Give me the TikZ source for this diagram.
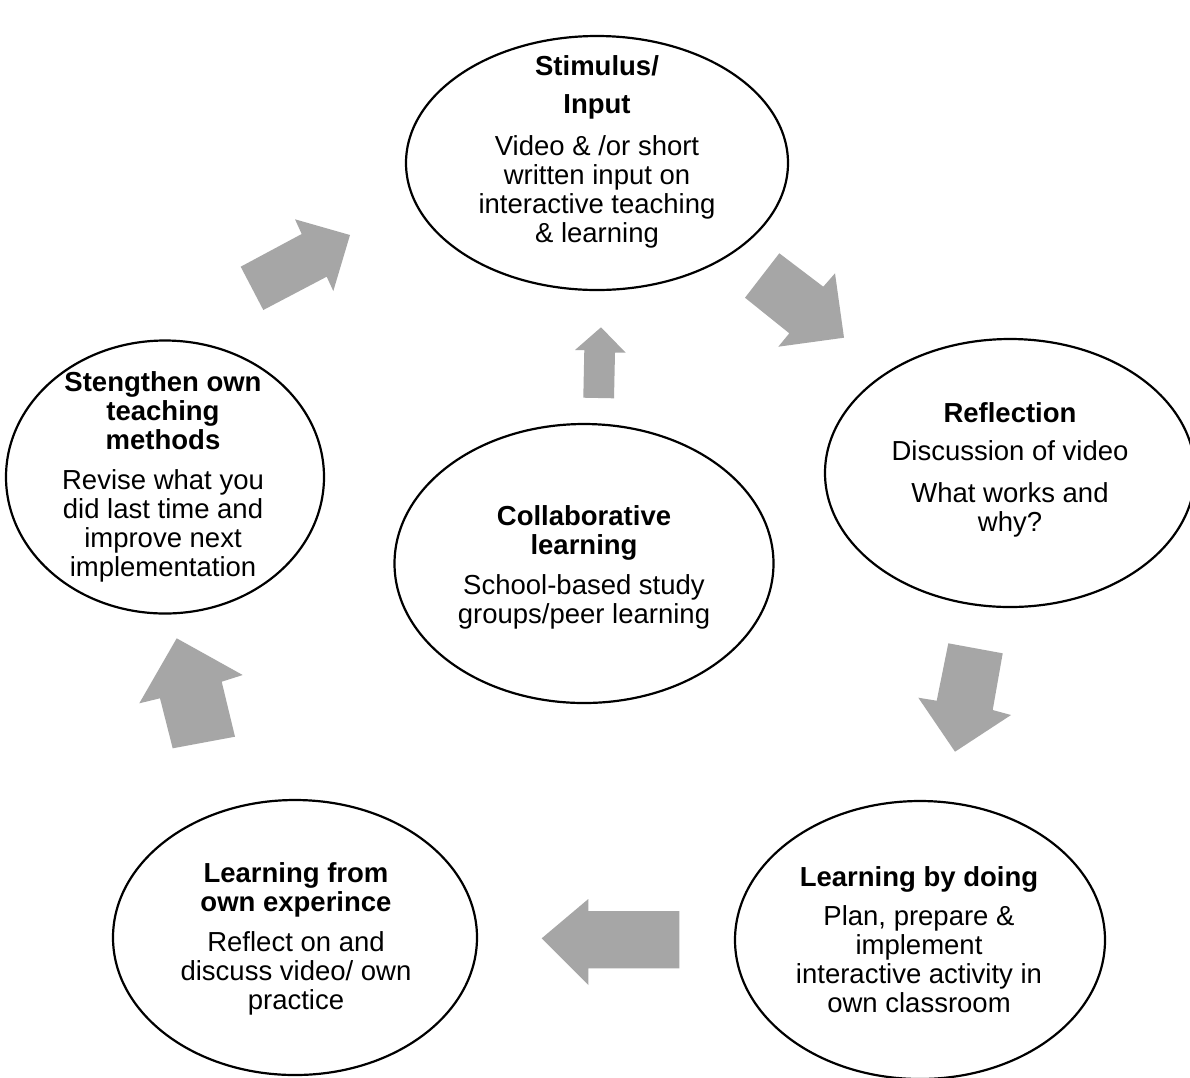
\documentclass[tikz,border=0pt]{standalone}
\usepackage{fontspec}
\setmainfont{Liberation Sans}
\usetikzlibrary{shapes.geometric}
\definecolor{arrowgray}{RGB}{166,166,166}
\tikzset{
  bubble/.style={ellipse, draw=black, line width=2.2pt, inner sep=0pt},
  label/.style={anchor=base, inner sep=0pt, font=\fontsize{27.5}{29}\selectfont},
  blockarrow/.style={fill=arrowgray, draw=none}
}
\newcommand{\lines}[1]{\begin{tabular}[t]{@{}c@{}}#1\end{tabular}}
\begin{document}
\begin{tikzpicture}[x=1pt,y=-1pt]
\useasboundingbox (0,0) rectangle (1190,1077);
\clip (0,0) rectangle (1190,1077);
\fill[white] (0,0) rectangle (1190,1077);

% ellipses
\node[bubble, minimum width=382pt, minimum height=254pt] (top) at (597,163) {};
\node[bubble, minimum width=370pt, minimum height=268pt] (refl) at (1010,473) {};
\node[bubble, minimum width=379pt, minimum height=279pt] (collab) at (584,563.5) {};
\node[bubble, minimum width=318pt, minimum height=273pt] (streng) at (165,477) {};
\node[bubble, minimum width=364pt, minimum height=275pt] (fromexp) at (295,937.5) {};
\node[bubble, minimum width=370pt, minimum height=278pt] (doing) at (920,940) {};

% texts
\node[label] (ttop) at (597,75) {\lines{\textbf{Stimulus/}\\[9pt]\textbf{Input}\\[13pt]Video \& /or short\\written input on\\interactive teaching\\\& learning}};
\node[label] (trefl) at (1010,422) {\lines{\textbf{Reflection}\\[9pt]Discussion of video\\[13pt]What works and\\why?}};
\node[label] (tcollab) at (584,525) {\lines{\textbf{Collaborative}\\\textbf{learning}\\[11pt]School-based study\\groups/peer learning}};
\node[label] (tstreng) at (163,391) {\lines{\textbf{Stengthen own}\\\textbf{teaching}\\\textbf{methods}\\[11pt]Revise what you\\did last time and\\improve next\\implementation}};
\node[label] (tdoing) at (919,886) {\lines{\textbf{Learning by doing}\\[10pt]Plan, prepare \&\\implement\\interactive activity in\\own classroom}};
\node[label] (tfromexp) at (296,882) {\lines{\textbf{Learning from}\\\textbf{own experince}\\[11pt]Reflect on and\\discuss video/ own\\practice}};

% block arrows
\fill[blockarrow] (240.7,266.7) -- (301.7,234) -- (295,219.3) -- (350,235) -- (333.3,291) -- (326.7,276.7) -- (263.3,310) -- cycle;
\fill[blockarrow] (779.3,253.3) -- (823.3,286.7) -- (835,273.3) -- (844,337.7) -- (778.3,346.7) -- (789.3,333.3) -- (745,297.7) -- cycle;
\fill[blockarrow] (601,327.3) -- (625.7,352.7) -- (615,352.7) -- (614,398.3) -- (583.3,397.7) -- (584.3,350) -- (575,350) -- cycle;
\fill[blockarrow] (948.3,643.3) -- (1002.7,653.3) -- (992.7,710) -- (1011,715) -- (955,751.7) -- (918.3,697.7) -- (936.7,700.7) -- cycle;
\fill[blockarrow] (541.7,938.3) -- (588.3,899) -- (588.3,911) -- (679.3,911) -- (679.3,968.3) -- (588.3,968.3) -- (588.3,985) -- cycle;
\fill[blockarrow] (176.7,638.3) -- (242.7,675) -- (221.7,681.7) -- (235,736.7) -- (172.7,748.3) -- (160,698.3) -- (139.3,703.3) -- cycle;
\end{tikzpicture}
\end{document}
